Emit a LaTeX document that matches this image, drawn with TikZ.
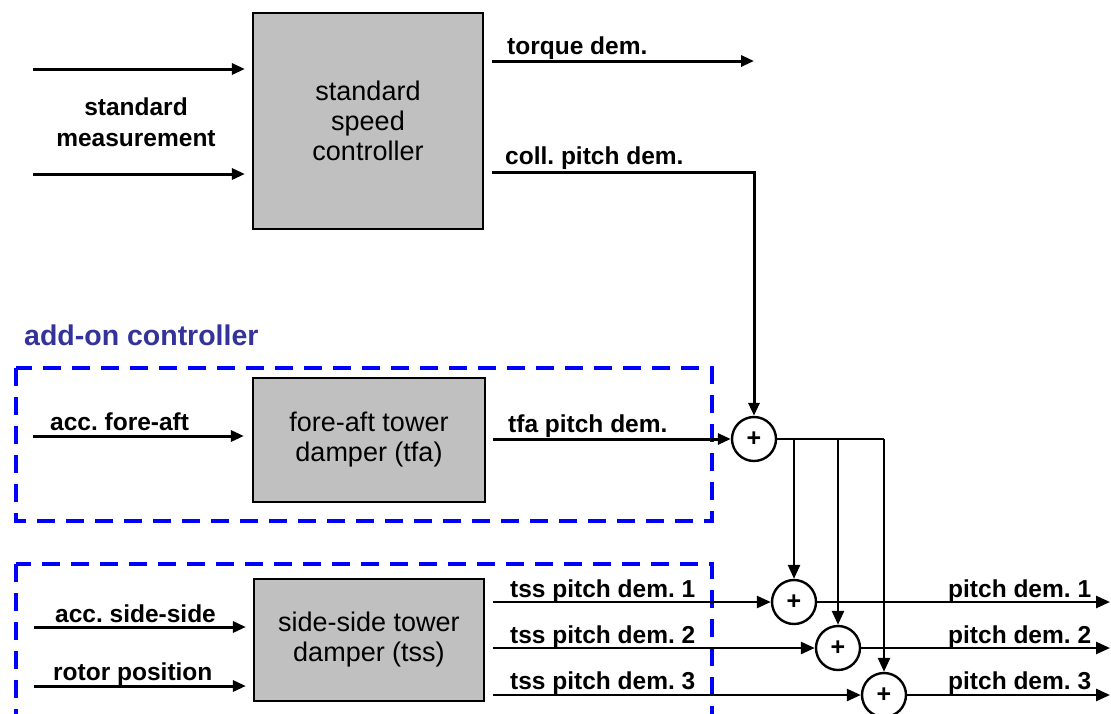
\documentclass[tikz,border=0pt]{standalone}
\usepackage{fontspec}
\setmainfont{Liberation Sans}
\usetikzlibrary{arrows.meta}
\definecolor{boxgray}{RGB}{192,192,192}
\definecolor{addon}{RGB}{51,51,153}
\begin{document}
\frenchspacing
\begin{tikzpicture}[x=1pt,y=-1pt,
  blk/.style={draw=black,line width=2.2pt,fill=boxgray,inner sep=0pt,font=\fontsize{27}{30}\selectfont,align=center},
  lbl/.style={font=\bfseries\fontsize{24.5}{31}\selectfont,inner sep=0pt,anchor=base west},
  sig/.style={line width=3pt,-{Triangle[length=13pt,width=11pt]}},
  brs/.style={line width=2.6pt,-{Triangle[length=14pt,width=12pt]}},
  wire/.style={line width=2.6pt},
  sum/.style={circle,draw,line width=2.4pt,minimum size=44pt,inner sep=0pt,fill=white,font=\bfseries\fontsize{25}{25}\selectfont},
  grp/.style={draw=blue,line width=4pt,dash pattern=on 18pt off 11pt}]
\useasboundingbox (0,0) rectangle (1111,713);
\clip (0,0) rectangle (1111,713);
% group frames
\draw[grp] (16,368) rectangle (712,521);
\draw[grp] (16,564) rectangle (712,760);
\node[font=\bfseries\fontsize{28.5}{30}\selectfont,text=addon,anchor=base west,inner sep=0pt] (addon) at (24,345) {add-on controller};
% blocks
\node[blk,minimum width=230pt,minimum height=216pt] (sc) at (368,121) {standard\\speed\\controller};
\node[blk,minimum width=232pt,minimum height=124pt] (tfa) at (369,440) {fore-aft tower\\damper (tfa)};
\node[blk,minimum width=230pt,minimum height=122pt] (tss) at (369,640) {side-side tower\\damper (tss)};
% summing points
\node[sum] (s1) at (754,439) {+};
\node[sum] (s2) at (794,602) {+};
\node[sum] (s3) at (838,648) {+};
\node[sum] (s4) at (884,695) {+};
% standard measurement inputs
\coordinate (m1) at (33,69);
\coordinate (m2) at (33,174);
\draw[sig] (m1) -- ([xshift=-7pt]sc.west |- m1);
\draw[sig] (m2) -- ([xshift=-7pt]sc.west |- m2);
\node[font=\bfseries\fontsize{24.5}{31}\selectfont,align=center,inner sep=0pt] (lm) at (136,122) {standard\\measurement};
% torque demand
\coordinate (tq0) at (492,61);
\coordinate (tq1) at (754,61);
\draw[sig] (tq0) -- (tq1);
\node[lbl] (ltq) at (507,54) {torque dem.};
% collective pitch demand
\coordinate (cp0) at (492,172);
\draw[sig] (cp0) -| (s1.north);
\node[lbl] (lcp) at (505,164) {coll. pitch dem.};
% fore-aft
\coordinate (fa0) at (33,436);
\draw[sig] (fa0) -- ([xshift=-8pt]tfa.west |- fa0);
\node[lbl] (lfa) at (50,430) {acc. fore-aft};
\draw[sig] ([xshift=7pt]tfa.east |- s1) -- (s1.west);
\node[lbl] (ltfa) at (508,432) {tfa pitch dem.};
% branches from s1
\coordinate (br) at (884,439);
\draw[wire] (s1.east) -- (br);
\draw[brs] (s2 |- s1) -- (s2.north);
\draw[brs] (s3 |- s1) -- (s3.north);
\draw[brs] (br) -- (s4.north);
% side-side inputs
\coordinate (ss0) at (34,627);
\coordinate (rp0) at (34,686);
\draw[sig] (ss0) -- ([xshift=-7pt]tss.west |- ss0);
\draw[sig] (rp0) -- ([xshift=-7pt]tss.west |- rp0);
\node[lbl] (lss) at (55,622) {acc. side-side};
\node[lbl] (lrp) at (53,680) {rotor position};
% tss outputs
\draw[brs] ([xshift=8pt]tss.east |- s2) -- (s2.west);
\draw[brs] ([xshift=8pt]tss.east |- s3) -- (s3.west);
\draw[brs] ([xshift=8pt]tss.east |- s4) -- (s4.west);
\node[lbl] (lt1) at (510,597) {tss pitch dem. 1};
\node[lbl] (lt2) at (510,643) {tss pitch dem. 2};
\node[lbl] (lt3) at (510,689) {tss pitch dem. 3};
% final outputs
\coordinate (o1) at (1110,602);
\coordinate (o2) at (1110,648);
\coordinate (o3) at (1110,695);
\draw[brs] (s2.east) -- (o1);
\draw[brs] (s3.east) -- (o2);
\draw[brs] (s4.east) -- (o3);
\node[lbl] (lp1) at (948,597) {pitch dem. 1};
\node[lbl] (lp2) at (948,643) {pitch dem. 2};
\node[lbl] (lp3) at (948,689) {pitch dem. 3};
\end{tikzpicture}
\end{document}
